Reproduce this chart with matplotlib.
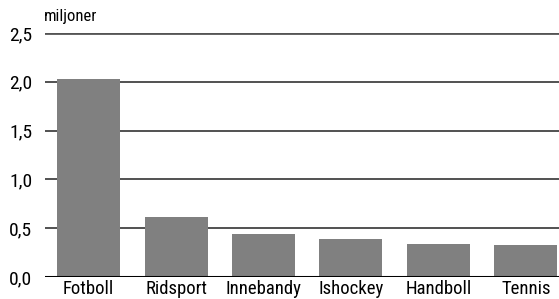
import numpy as np
import matplotlib.pyplot as plt

# Data (millions)
sports = ["Fotboll", "Ridsport", "Innebandy", "Ishockey", "Handboll", "Tennis"]
values = [2.03, 0.61, 0.44, 0.39, 0.34, 0.33]
y_ticks = [0.0, 0.5, 1.0, 1.5, 2.0, 2.5]
y_tick_labels = ["0,0", "0,5", "1,0", "1,5", "2,0", "2,5"]

plt.rcParams['font.family'] = ['Roboto Condensed', 'DejaVu Sans']

fig = plt.figure(figsize=(5.59, 2.99), dpi=100)
ax = fig.add_axes([45 / 559, 1 - 277 / 299, 1 - 45 / 559, (277 - 33) / 299])

x = np.arange(len(sports))
ax.bar(x, values, width=0.72, color="#808080", zorder=3)

for t in y_ticks[1:-1]:
    ax.axhline(t, color="#222222", lw=1.1, zorder=1)
ax.axhline(y_ticks[-1], color="#555555", lw=2.0, zorder=1)
ax.axhline(0, color="black", lw=2.2, zorder=4)

ax.set_xlim(-0.5, 5.38)
ax.set_ylim(0, 2.5)
ax.set_yticks(y_ticks)
ax.set_yticklabels(y_tick_labels, fontsize=14)
ax.set_xticks(x)
ax.set_xticklabels(sports, fontsize=13.5)
ax.tick_params(axis="both", length=0, pad=2)
ax.tick_params(axis="y", pad=9)
for s in ax.spines.values():
    s.set_visible(False)

fig.text(44 / 559, 1 - 17 / 299, "miljoner", fontsize=12, va="center", ha="left")

fig.savefig("out.png", dpi=100)
